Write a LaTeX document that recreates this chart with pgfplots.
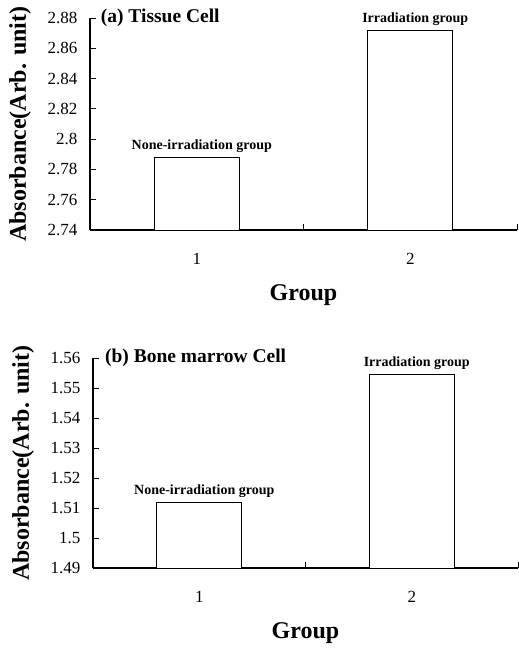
\documentclass[border=0pt]{standalone}
\usepackage{fontspec}
\setmainfont{Liberation Serif}
\usepackage{pgfplots}
\pgfplotsset{compat=1.18}

\newcommand\fs[1]{\fontsize{#1}{#1}\selectfont}

\tikzset{tickmarks/.style={line width=1pt, black}}

\pgfplotsset{
  panel/.style={
    scale only axis,
    axis x line*=bottom,
    axis y line*=left,
    axis line style={line width=1.3pt},
    /pgf/number format/assume math mode=true,
    xmin=0.5, xmax=2.5,
    % ticks at 1 and 2 sit under the white bars
    xtick={1,1.5,2,2.5},
    xticklabels={1,,2,},
    tick align=inside,
    major tick length=6pt,
    major tick style={line width=1pt, draw=black},
    tick label style={font=\fs{17}},
    xticklabel style={yshift=-20pt},
    yticklabel style={xshift=-9pt},
    every axis y label/.style={at={(axis description cs:0,0.5)}, xshift=-70pt,
      rotate=90, anchor=center, font=\bfseries\fs{24}},
    every axis x label/.style={at={(axis description cs:0.5,0)}, yshift=-65pt,
      anchor=center, font=\bfseries\fs{24}},
    ylabel={Absorbance(Arb. unit)},
    xlabel={Group},
    clip mode=individual,
  },
  bars/.style={ybar, bar width=85pt, bar shift=0pt,
    draw=black, fill=white, line width=0.8pt,
    nodes near coords, point meta=explicit symbolic,
    nodes near coords style={font=\bfseries\fs{14}, anchor=south, xshift=5pt, yshift=1pt}},
}

\begin{document}
\begin{tikzpicture}
\useasboundingbox (0,0) rectangle (519pt,-648pt);

% (a) tissue cell
\begin{axis}[panel, at={(90pt,-230pt)}, anchor=south west,
  width=427pt, height=212pt,
  ymin=2.74, ymax=2.88,
  ytick={2.74,2.76,2.78,2.8,2.82,2.84,2.86,2.88}]
\addplot[bars] coordinates {(1,2.788)[None-irradiation group] (2,2.872)[Irradiation group]};
\pgfplotsinvokeforeach{2.76,2.78,2.8,2.82,2.84,2.86,2.88}{
  \draw[tickmarks] (axis cs:0.5,#1) -- ++(5pt,0pt);}
\pgfplotsinvokeforeach{1.5,2.5}{
  \draw[tickmarks] (axis cs:#1,2.74) -- ++(0pt,6pt);}
\node[anchor=west, font=\bfseries\fs{19.5}, inner sep=0pt] at (rel axis cs:0.025,1) {(a) Tissue Cell};
\end{axis}

% (b) bone marrow cell
\begin{axis}[panel, at={(93pt,-568pt)}, anchor=south west,
  width=425pt, height=210pt,
  ymin=1.49, ymax=1.56,
  ytick={1.49,1.5,1.51,1.52,1.53,1.54,1.55,1.56}]
\addplot[bars] coordinates {(1,1.512)[None-irradiation group] (2,1.5545)[Irradiation group]};
\pgfplotsinvokeforeach{1.5,1.51,1.52,1.53,1.54,1.55,1.56}{
  \draw[tickmarks] (axis cs:0.5,#1) -- ++(5pt,0pt);}
\pgfplotsinvokeforeach{1.5,2.5}{
  \draw[tickmarks] (axis cs:#1,1.49) -- ++(0pt,6pt);}
\node[anchor=west, font=\bfseries\fs{19.5}, inner sep=0pt] at (rel axis cs:0.028,1) {(b) Bone marrow Cell};
\end{axis}
\end{tikzpicture}
\end{document}
